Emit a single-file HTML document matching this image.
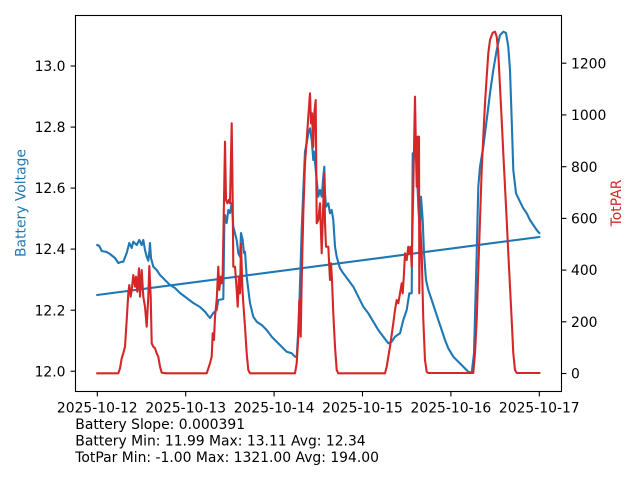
<!DOCTYPE html>
<html><head><meta charset="utf-8"><style>
html,body{margin:0;padding:0;background:#fff;}
svg{display:block;}
text{font-family:"DejaVu Sans","Liberation Sans",sans-serif;font-size:13.9px;fill:#000;}
</style></head><body>
<svg width="640" height="480" viewBox="0 0 640 480" xmlns="http://www.w3.org/2000/svg">
<rect width="640" height="480" fill="#fff"/>
<defs><clipPath id="c"><rect x="75" y="15" width="486" height="376"/></clipPath></defs>
<g clip-path="url(#c)" fill="none" stroke-linejoin="round" stroke-linecap="square" stroke-width="2.1">
<polyline stroke="#1f77b4" points="97.3,245 99.3,246 101.7,251 106.7,252 110,254 115,258 118.3,263 121,262 123.3,261.7 126.7,253 129.3,243 131.7,248 133.3,241.7 136.7,245 139.3,240 141.7,245 143.3,240 145,250 146.7,256.7 148.3,260.7 149.5,250 150,243 151,258 153.3,266.7 156.7,270 160,275 165,280 170,285 175,288 180,293 186.7,298 193.3,303 200,307 205,311.7 208.3,316 210,318 213.3,313 216.7,310 218.3,300 223.3,299 224.3,225 225,215 226.7,223 228.3,210 230,213 231.7,203 233.3,226.7 236.7,240 238.3,253 240,256.7 241,233 242.7,240 244,253 245,251.7 246.7,276.7 250,303 253.3,316.7 256.7,321.7 261.7,325 266.7,330 271.7,336.7 276.7,341.7 281.7,346.7 286.7,351.7 291.7,353.3 295,356.7 296.7,357 298,335 299.5,300 301.7,230 303.3,190 305,151.7 306.7,143.3 308.3,133.3 310,128.3 311.7,140 313.3,160 314,151.7 316.7,180 318.3,196.7 320,190 321.7,196.7 323.3,176.7 324.3,166.7 325,193.3 326,206.7 328.3,203.3 330,213.3 331.7,210 333.3,220 335,246.7 336.7,256.7 340,268.3 343.3,273.3 348.3,280 353.3,286.7 358.3,296.7 363.3,306.7 368.3,313.3 373.3,321.7 378.3,330 383.3,336.7 388.3,343.3 391.7,341.7 395,336.7 400,333.3 403.3,320 406.7,310 409.3,293.3 411.7,293.3 412.7,153.3 415,153.3 416.7,163.3 418.3,206.7 420,233.3 421,196.7 422.7,220 424,253.3 426,280 428.3,290 431.7,300 435,310 438.3,320 441.7,330 445,340 448.3,348.3 453.3,356.7 458.3,361.7 463.3,366.7 468.3,371.7 471.7,372.7 474,353.3 476.7,253.3 478.3,186.7 480,166.7 483.3,146.7 486.7,120 490,93.3 493.3,70 496.7,50 500,35 503.3,31.7 506,33 508.3,46.7 510,70 511.7,120 513.3,170 516,193.3 520,201.7 523.3,208.3 526.7,213.3 530,220 533.3,225 536.7,230 539.3,233"/>
<line stroke="#1f77b4" x1="97.3" y1="295" x2="539.3" y2="237"/>
<polyline stroke="#d62728" points="97.3,373.3 118.3,373.3 120,368.3 121.7,358.3 123.3,353.3 125,346.7 126.7,320 128.3,293.3 129.3,285 130.7,296.7 131.7,290 133.3,275 135,286.7 136,276.7 137.3,291.7 139,268.3 140,296.7 141.7,270 143.3,296.7 145,306.7 146.7,326.7 148.3,296.7 149.3,266 150.7,296.7 151.7,343.3 153.3,346.7 155,348.3 156.7,353.3 158.3,356.7 160,366.7 161.7,372.7 166.7,373.3 206.7,373.3 210,363.3 211.7,356.7 212.7,333.3 214,340 215,316.7 216.7,300 218.3,266.7 219.3,290 220.7,276.7 221.7,283.3 222.7,273.3 224,200 225,141.7 226,200 227.3,203.3 228.7,200 230,203.3 231.7,123.3 232.7,200 233.3,266.7 235,266.7 236.7,290 237.7,306.7 239,276.7 240,293.3 241,243.3 242.3,286.7 243.3,303.3 245,326.7 246.7,353.3 248.3,370 250,373.3 295,373.3 296.7,363.3 298.3,336.7 299.3,300 300.7,336.7 301.7,280 303.3,213.3 305,163.3 306.7,140 308.3,116.7 310,93.3 311,123.3 312,113.3 313.3,146.7 314.3,113.3 315.7,100 316.7,223.3 318.3,220 320,203.3 321.7,253.3 323.3,203.3 324.3,173.3 325,223.3 326,246.7 328.3,246.7 329.3,266.7 330,280 331,263.3 332,280 333.3,313.3 335,346.7 336.7,370 338.3,373.3 385,373.3 386.7,366.7 390,346.7 393.3,323.3 395,310 396.7,300 398.3,303.3 400,293.3 401.7,283.3 402.7,293.3 404,273.3 405,253.3 406.7,260 408.3,246.7 409.3,253.3 410.7,246.7 411.7,266.7 413.3,186.7 415,96.7 416,153.3 416.7,186.7 417.7,136.7 419,136.7 419.3,293.3 420,220 421.7,253.3 423.3,320 425,360 426.7,371.7 428.3,373 473.3,373 475,353.3 476.7,320 478.3,270 480,220 481.7,170 483.3,136.7 485,103.3 486.7,76.7 488.3,53.3 490,40 492.7,32.7 495,31.7 496.7,36.7 498.3,53.3 500,86.7 501.7,120 503.3,153.3 505,186.7 506.7,220 508.3,253.3 510,286.7 511.7,320 513.3,353.3 515,370 516.7,373 539.3,373"/>
</g>
<rect x="75.5" y="15.5" width="486" height="376" fill="none" stroke="#000" stroke-width="1.1"/>
<g stroke="#000" stroke-width="1.1">
<line x1="97.3" y1="391.5" x2="97.3" y2="396.4"/>
<line x1="185.7" y1="391.5" x2="185.7" y2="396.4"/>
<line x1="274.1" y1="391.5" x2="274.1" y2="396.4"/>
<line x1="362.5" y1="391.5" x2="362.5" y2="396.4"/>
<line x1="450.9" y1="391.5" x2="450.9" y2="396.4"/>
<line x1="539.3" y1="391.5" x2="539.3" y2="396.4"/>
<line x1="70.6" y1="66" x2="75.5" y2="66"/>
<line x1="70.6" y1="127.1" x2="75.5" y2="127.1"/>
<line x1="70.6" y1="188.1" x2="75.5" y2="188.1"/>
<line x1="70.6" y1="249.1" x2="75.5" y2="249.1"/>
<line x1="70.6" y1="310.2" x2="75.5" y2="310.2"/>
<line x1="70.6" y1="371.2" x2="75.5" y2="371.2"/>
<line x1="561.5" y1="373.5" x2="566.4" y2="373.5"/>
<line x1="561.5" y1="321.8" x2="566.4" y2="321.8"/>
<line x1="561.5" y1="270.1" x2="566.4" y2="270.1"/>
<line x1="561.5" y1="218.4" x2="566.4" y2="218.4"/>
<line x1="561.5" y1="166.7" x2="566.4" y2="166.7"/>
<line x1="561.5" y1="114.9" x2="566.4" y2="114.9"/>
<line x1="561.5" y1="63.2" x2="566.4" y2="63.2"/>
</g>
<g text-anchor="middle">
<text x="97.3" y="412.3">2025-10-12</text>
<text x="185.7" y="412.3">2025-10-13</text>
<text x="274.1" y="412.3">2025-10-14</text>
<text x="362.5" y="412.3">2025-10-15</text>
<text x="450.9" y="412.3">2025-10-16</text>
<text x="539.3" y="412.3">2025-10-17</text>
</g>
<g text-anchor="end">
<text x="65.5" y="71.1">13.0</text>
<text x="65.5" y="132.2">12.8</text>
<text x="65.5" y="193.2">12.6</text>
<text x="65.5" y="254.2">12.4</text>
<text x="65.5" y="315.3">12.2</text>
<text x="65.5" y="376.3">12.0</text>
</g>
<g text-anchor="start">
<text x="571" y="378.6">0</text>
<text x="571" y="326.9">200</text>
<text x="571" y="275.2">400</text>
<text x="571" y="223.5">600</text>
<text x="571" y="171.8">800</text>
<text x="571" y="120">1000</text>
<text x="571" y="68.3">1200</text>
</g>
<text transform="translate(25.5,203) rotate(-90)" text-anchor="middle" style="fill:#1f77b4">Battery Voltage</text>
<text transform="translate(621,203) rotate(-90)" text-anchor="middle" style="fill:#d62728">TotPAR</text>
<text x="75.3" y="429.2">Battery Slope: 0.000391</text>
<text x="75.3" y="445.5">Battery Min: 11.99 Max: 13.11 Avg: 12.34</text>
<text x="75.3" y="461.8">TotPar Min: -1.00 Max: 1321.00 Avg: 194.00</text>
</svg>
</body></html>
